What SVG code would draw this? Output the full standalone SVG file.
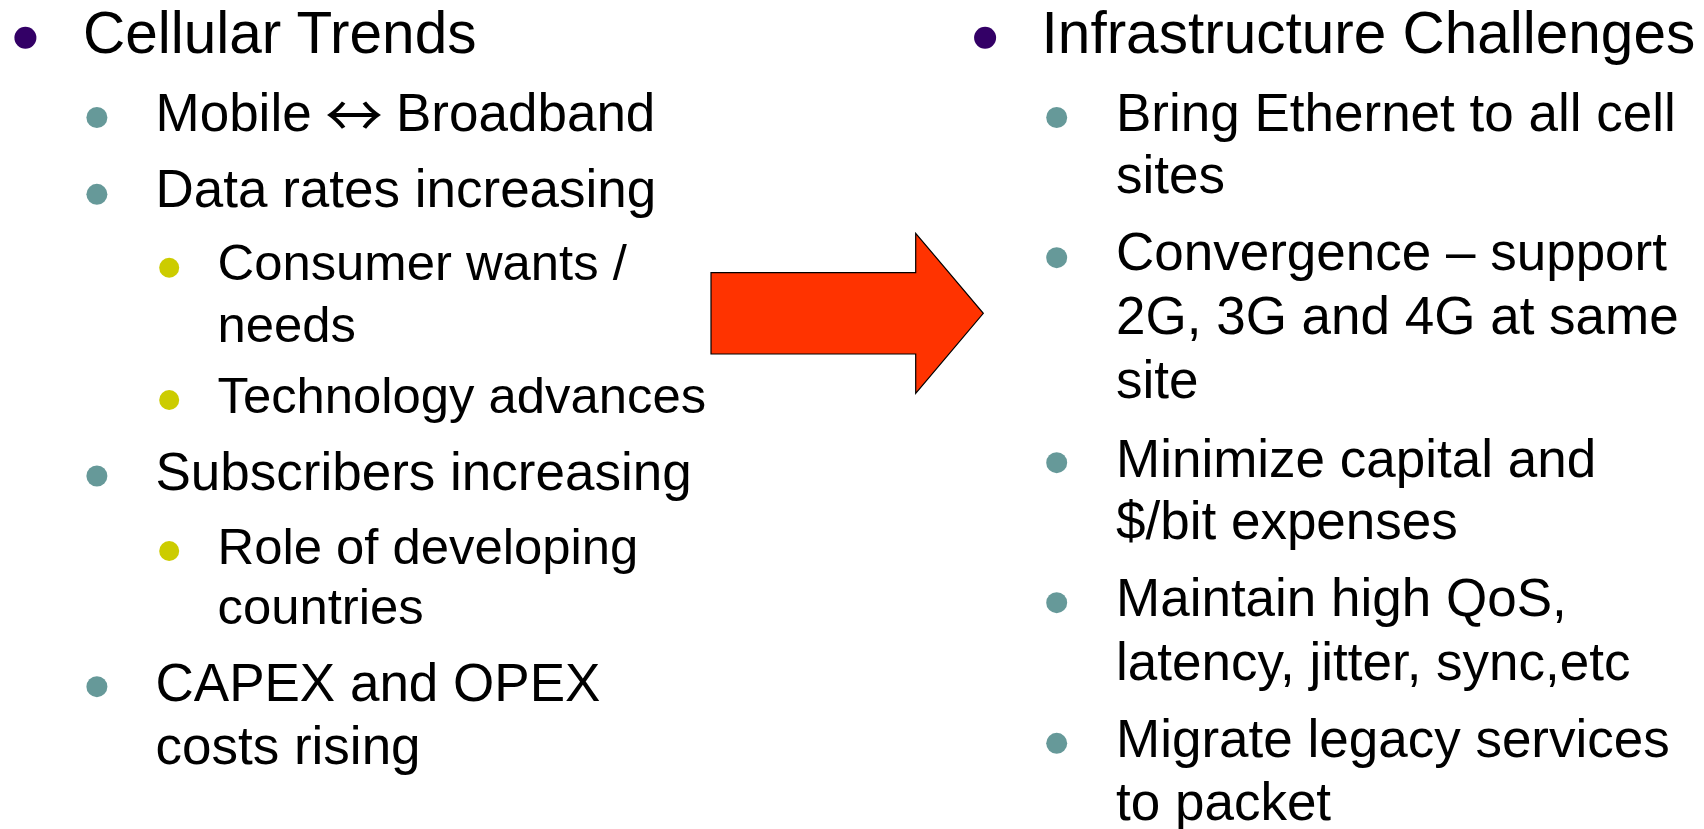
<svg xmlns="http://www.w3.org/2000/svg" width="1704" height="829" viewBox="0 0 1704 829">
  <style>
    text { font-family: "Liberation Sans", Arial, sans-serif; fill: #000000; }
    .l1 { font-size: 58.5px; }
    .l2 { font-size: 53px; }
    .l3 { font-size: 50.8px; }
    .sym { font-family: "Noto Sans CJK JP", "DejaVu Serif", serif; font-size: 58px; }
    .b1 { fill: #330066; }
    .b2 { fill: #669999; }
    .b3 { fill: #CCCC00; }
  </style>
  <rect x="0" y="0" width="1704" height="829" fill="#FFFFFF"/>

  <!-- Left column: cellular trends -->
  <g id="cellular-trends">
    <circle class="b1" cx="25.4" cy="37.7" r="11"/>
    <text class="l1" x="83" y="52.7">Cellular Trends</text>
  </g>
  <g id="mobile-broadband">
    <circle class="b2" cx="96.9" cy="117.5" r="10.5"/>
    <text class="l2" x="155.5" y="130.7">Mobile <tspan class="sym" x="325" y="136.5">↔</tspan> <tspan x="396" y="130.7">Broadband</tspan></text>
  </g>
  <g id="data-rates">
    <circle class="b2" cx="96.9" cy="194.3" r="10.5"/>
    <text class="l2" x="155.5" y="206.7">Data rates increasing</text>
  </g>
  <g id="consumer-wants">
    <circle class="b3" cx="169.2" cy="267.7" r="10"/>
    <text class="l3" x="217.5" y="280">Consumer wants /</text>
    <text class="l3" x="217.5" y="341.7">needs</text>
  </g>
  <g id="technology-advances">
    <circle class="b3" cx="169.2" cy="400" r="10"/>
    <text class="l3" x="217.5" y="412.5">Technology advances</text>
  </g>
  <g id="subscribers">
    <circle class="b2" cx="96.9" cy="476" r="10.5"/>
    <text class="l2" x="155.5" y="490">Subscribers increasing</text>
  </g>
  <g id="developing-countries">
    <circle class="b3" cx="169.2" cy="551" r="10"/>
    <text class="l3" x="217.5" y="564">Role of developing</text>
    <text class="l3" x="217.5" y="624">countries</text>
  </g>
  <g id="capex-opex">
    <circle class="b2" cx="96.9" cy="686.7" r="10.5"/>
    <text class="l2" x="155.5" y="700.7">CAPEX and OPEX</text>
    <text class="l2" x="155.5" y="764">costs rising</text>
  </g>

  <!-- Block arrow between the two columns -->
  <g id="connectors">
    <path d="M711,272.7 L915.7,272.7 L915.7,233.3 L983.3,313.3 L915.7,393.3 L915.7,354 L711,354 Z" fill="#FF3300" stroke="#000000" stroke-width="1.2" stroke-linejoin="miter"/>
  </g>

  <!-- Right column: infrastructure challenges -->
  <g id="infrastructure-challenges">
    <circle class="b1" cx="985.1" cy="37.7" r="11"/>
    <text class="l1" x="1041.6" y="52.7">Infrastructure Challenges</text>
  </g>
  <g id="ethernet">
    <circle class="b2" cx="1056.7" cy="117.5" r="10.5"/>
    <text class="l2" x="1116" y="130.7">Bring Ethernet to all cell</text>
    <text class="l2" x="1116" y="193.3">sites</text>
  </g>
  <g id="convergence">
    <circle class="b2" cx="1056.7" cy="257.7" r="10.5"/>
    <text class="l2" x="1116" y="270">Convergence – support</text>
    <text class="l2" x="1116" y="334.3">2G, 3G and 4G at same</text>
    <text class="l2" x="1116" y="398.3">site</text>
  </g>
  <g id="minimize-capital">
    <circle class="b2" cx="1056.7" cy="462.7" r="10.5"/>
    <text class="l2" x="1116" y="476.7">Minimize capital and</text>
    <text class="l2" x="1116" y="539.3">$/bit expenses</text>
  </g>
  <g id="maintain-qos">
    <circle class="b2" cx="1056.7" cy="602.7" r="10.5"/>
    <text class="l2" x="1116" y="616">Maintain high QoS,</text>
    <text class="l2" x="1116" y="680">latency, jitter, sync,etc</text>
  </g>
  <g id="migrate-legacy">
    <circle class="b2" cx="1056.7" cy="743.3" r="10.5"/>
    <text class="l2" x="1116" y="757.3">Migrate legacy services</text>
    <text class="l2" x="1116" y="820">to packet</text>
  </g>
</svg>
